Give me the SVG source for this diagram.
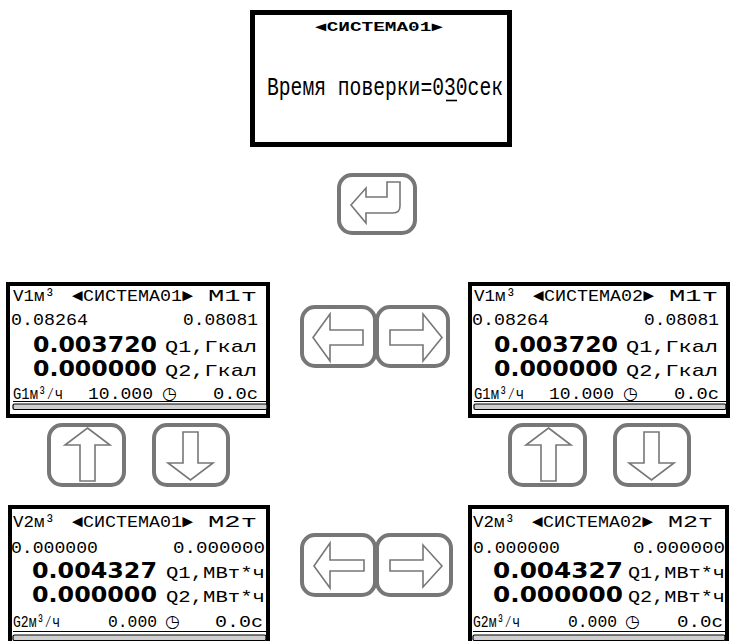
<svg xmlns="http://www.w3.org/2000/svg" width="731" height="641" viewBox="0 0 731 641">
<style>
.frame{fill:#fff;stroke:#000;stroke-width:4}
.btn{fill:#fff;stroke:#777;stroke-width:4}
.arr{fill:#fff;stroke:#777;stroke-width:1.6;stroke-linejoin:miter}
.t{font-family:"Liberation Mono","DejaVu Sans Mono",monospace;font-size:17px;fill:#000}
.big{font-family:"DejaVu Sans","Liberation Sans",sans-serif;font-weight:bold;font-size:21px;fill:#000}
.clk{font-family:"DejaVu Sans",sans-serif;font-size:17px;fill:#000}
.bar{fill:#d0d0d0;stroke:#000;stroke-width:1.2}
.ul{stroke:#000;stroke-width:1.2}
</style>
<rect width="731" height="641" fill="#fff"/>

<g id="top-box">
<rect x="252.5" y="12.5" width="257" height="132" fill="#fff" stroke="#000" stroke-width="5"/>
<text x="315" y="30.5" class="t" style="font-size:13px;font-weight:bold" textLength="128" lengthAdjust="spacingAndGlyphs">◄СИСТЕМА01►</text>
<text x="267" y="95" class="t" style="font-size:25px" textLength="236" lengthAdjust="spacingAndGlyphs">Время поверки=030сек</text>
<line x1="446" y1="100.5" x2="457" y2="100.5" stroke="#000" stroke-width="1.6"/>
</g>

<g id="btn-enter">
<rect x="339" y="175" width="76" height="58" rx="13" class="btn"/>
<path class="arr" d="M351,205 L366,188 L366,197 L387,197 L387,182 L400,182 L400,206 Q400,213 393,213 L366,213 L366,223 Z"/>
</g>

<g id="screen-tl">
<rect x="8" y="284" width="260" height="132" class="frame"/>
<text class="t" x="13" y="301" textLength="42" lengthAdjust="spacingAndGlyphs">V1м³</text>
<text class="t" x="72" y="301" textLength="121" lengthAdjust="spacingAndGlyphs">◄СИСТЕМА01►</text>
<text class="t" x="208" y="301" textLength="49" lengthAdjust="spacingAndGlyphs">M1т</text>
<text class="t" x="11" y="325" textLength="77" lengthAdjust="spacingAndGlyphs">0.08264</text>
<text class="t" x="183" y="325" textLength="75" lengthAdjust="spacingAndGlyphs">0.08081</text>
<text class="big" x="33" y="352" textLength="124" lengthAdjust="spacingAndGlyphs">0.003720</text>
<text class="t" x="165" y="352" textLength="92" lengthAdjust="spacingAndGlyphs">Q1,Гкал</text>
<text class="big" x="33" y="376" textLength="124" lengthAdjust="spacingAndGlyphs">0.000000</text>
<text class="t" x="165" y="376" textLength="92" lengthAdjust="spacingAndGlyphs">Q2,Гкал</text>
<text class="t" x="13" y="399" textLength="50" lengthAdjust="spacingAndGlyphs">G1м³⁄ч</text>
<text class="t" x="88" y="399" textLength="65" lengthAdjust="spacingAndGlyphs">10.000</text>
<text class="clk" x="162" y="399">◷</text>
<text class="t" x="213" y="399" textLength="45" lengthAdjust="spacingAndGlyphs">0.0с</text>
<line class="ul" x1="13" y1="401.5" x2="267" y2="401.5"/>
<rect class="bar" x="13" y="404" width="254" height="5.5" rx="1.5"/>
</g>

<g id="screen-tr">
<rect x="470" y="284" width="258" height="132" class="frame"/>
<text class="t" x="474" y="301" textLength="42" lengthAdjust="spacingAndGlyphs">V1м³</text>
<text class="t" x="533" y="301" textLength="121" lengthAdjust="spacingAndGlyphs">◄СИСТЕМА02►</text>
<text class="t" x="669" y="301" textLength="49" lengthAdjust="spacingAndGlyphs">M1т</text>
<text class="t" x="472" y="325" textLength="77" lengthAdjust="spacingAndGlyphs">0.08264</text>
<text class="t" x="644" y="325" textLength="75" lengthAdjust="spacingAndGlyphs">0.08081</text>
<text class="big" x="494" y="352" textLength="124" lengthAdjust="spacingAndGlyphs">0.003720</text>
<text class="t" x="626" y="352" textLength="92" lengthAdjust="spacingAndGlyphs">Q1,Гкал</text>
<text class="big" x="494" y="376" textLength="124" lengthAdjust="spacingAndGlyphs">0.000000</text>
<text class="t" x="626" y="376" textLength="92" lengthAdjust="spacingAndGlyphs">Q2,Гкал</text>
<text class="t" x="474" y="399" textLength="50" lengthAdjust="spacingAndGlyphs">G1м³⁄ч</text>
<text class="t" x="549" y="399" textLength="65" lengthAdjust="spacingAndGlyphs">10.000</text>
<text class="clk" x="623" y="399">◷</text>
<text class="t" x="674" y="399" textLength="45" lengthAdjust="spacingAndGlyphs">0.0с</text>
<line class="ul" x1="474" y1="401.5" x2="726" y2="401.5"/>
<rect class="bar" x="474" y="404" width="252" height="5.5" rx="1.5"/>
</g>

<g id="btn-lr-top">
<rect x="302" y="307" width="73" height="59" rx="13" class="btn"/>
<rect x="377" y="307" width="71" height="59" rx="13" class="btn"/>
<polygon class="arr" points="313,337.5 330,314 330,330 363,330 363,345 330,345 330,361"/>
<polygon class="arr" points="442,337.5 423,314 423,330 390,330 390,345 423,345 423,361"/>
</g>

<g id="btn-ud-left">
<rect x="49" y="425" width="75" height="60" rx="13" class="btn"/>
<rect x="154" y="425" width="74" height="60" rx="13" class="btn"/>
<polygon class="arr" points="87.5,428 110,445 95,445 95,481 80,481 80,445 65,445"/>
<polygon class="arr" points="183,432 198,432 198,463 213,463 190.5,480 168,463 183,463"/>
</g>

<g id="btn-ud-right">
<rect x="510" y="425" width="75" height="60" rx="13" class="btn"/>
<rect x="615" y="425" width="74" height="60" rx="13" class="btn"/>
<polygon class="arr" points="548.5,428 571,445 556,445 556,481 541,481 541,445 526,445"/>
<polygon class="arr" points="644,432 659,432 659,463 674,463 651.5,480 629,463 644,463"/>
</g>

<g id="screen-bl">
<rect x="10" y="507" width="258" height="150" class="frame"/>
<text class="t" x="13" y="527" textLength="42" lengthAdjust="spacingAndGlyphs">V2м³</text>
<text class="t" x="72" y="527" textLength="121" lengthAdjust="spacingAndGlyphs">◄СИСТЕМА01►</text>
<text class="t" x="208" y="527" textLength="49" lengthAdjust="spacingAndGlyphs">M2т</text>
<text class="t" x="11" y="553" textLength="87" lengthAdjust="spacingAndGlyphs">0.000000</text>
<text class="t" x="173" y="553" textLength="92" lengthAdjust="spacingAndGlyphs">0.000000</text>
<text class="big" x="32" y="578" textLength="125" lengthAdjust="spacingAndGlyphs">0.004327</text>
<text class="t" x="166" y="578" textLength="99" lengthAdjust="spacingAndGlyphs">Q1,МВт*ч</text>
<text class="big" x="32" y="602" textLength="125" lengthAdjust="spacingAndGlyphs">0.000000</text>
<text class="t" x="166" y="602" textLength="99" lengthAdjust="spacingAndGlyphs">Q2,МВт*ч</text>
<text class="t" x="13" y="627" textLength="47" lengthAdjust="spacingAndGlyphs">G2м³⁄ч</text>
<text class="t" x="108" y="627" textLength="49" lengthAdjust="spacingAndGlyphs">0.000</text>
<text class="clk" x="165" y="627">◷</text>
<text class="t" x="215" y="627" textLength="48" lengthAdjust="spacingAndGlyphs">0.0с</text>
<line class="ul" x1="13" y1="631.5" x2="266" y2="631.5"/>
<rect class="bar" x="13" y="635" width="253" height="5.5" rx="1.5"/>
</g>

<g id="screen-br">
<rect x="470" y="507" width="257" height="150" class="frame"/>
<text class="t" x="473" y="527" textLength="42" lengthAdjust="spacingAndGlyphs">V2м³</text>
<text class="t" x="532" y="527" textLength="121" lengthAdjust="spacingAndGlyphs">◄СИСТЕМА02►</text>
<text class="t" x="668" y="527" textLength="45" lengthAdjust="spacingAndGlyphs">M2т</text>
<text class="t" x="473" y="553" textLength="87" lengthAdjust="spacingAndGlyphs">0.000000</text>
<text class="t" x="633" y="553" textLength="92" lengthAdjust="spacingAndGlyphs">0.000000</text>
<text class="big" x="493" y="578" textLength="130" lengthAdjust="spacingAndGlyphs">0.004327</text>
<text class="t" x="628" y="578" textLength="97" lengthAdjust="spacingAndGlyphs">Q1,МВт*ч</text>
<text class="big" x="493" y="602" textLength="130" lengthAdjust="spacingAndGlyphs">0.000000</text>
<text class="t" x="628" y="602" textLength="97" lengthAdjust="spacingAndGlyphs">Q2,МВт*ч</text>
<text class="t" x="473" y="627" textLength="47" lengthAdjust="spacingAndGlyphs">G2м³⁄ч</text>
<text class="t" x="568" y="627" textLength="49" lengthAdjust="spacingAndGlyphs">0.000</text>
<text class="clk" x="625" y="627">◷</text>
<text class="t" x="677" y="627" textLength="46" lengthAdjust="spacingAndGlyphs">0.0с</text>
<line class="ul" x1="473" y1="631.5" x2="725" y2="631.5"/>
<rect class="bar" x="473" y="635" width="252" height="5.5" rx="1.5"/>
</g>

<g id="btn-lr-bottom">
<rect x="302" y="535" width="73" height="60" rx="13" class="btn"/>
<rect x="377" y="535" width="74" height="60" rx="13" class="btn"/>
<polygon class="arr" points="314,566 330,543 330,560 364,560 364,571 330,571 330,588"/>
<polygon class="arr" points="442,566 423,545 423,560 390,560 390,571 423,571 423,587"/>
</g>

<g id="connectors"></g>
</svg>
